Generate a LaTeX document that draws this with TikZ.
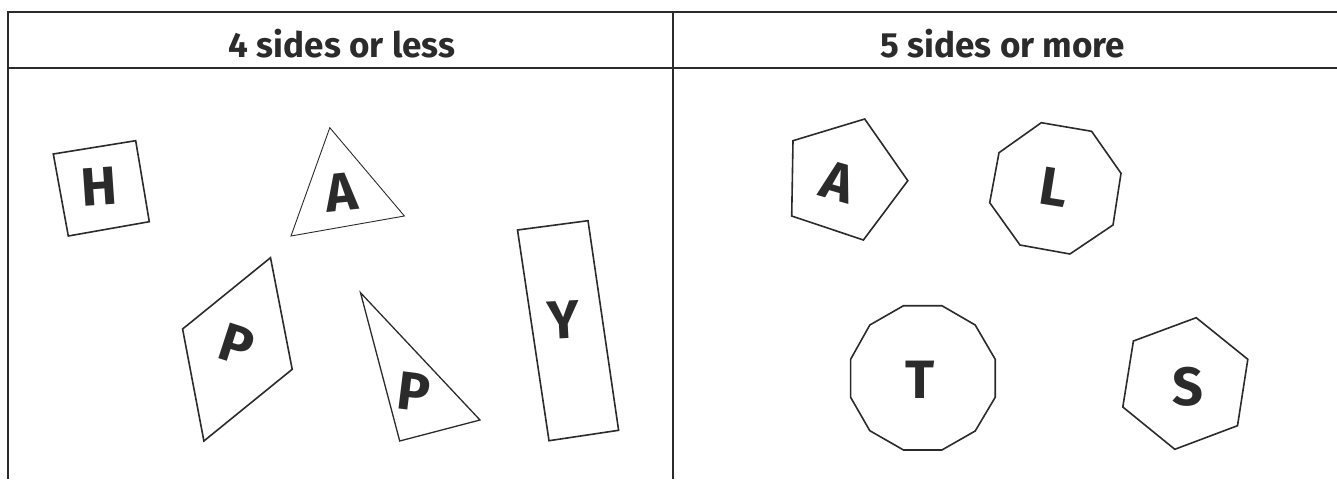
\documentclass[tikz,border=0pt]{standalone}
\usepackage{fontspec}
\setmainfont{Fira Sans}
\definecolor{inkgrey}{HTML}{2B2B2B}

\begin{document}
\begin{tikzpicture}[x=1pt, y=-1pt, every node/.style={text=inkgrey},
  heading/.style={font=\fontsize{35}{35}\selectfont\bfseries, anchor=base},
  letter/.style={font=\fontsize{54}{54}\selectfont\bfseries},
  tableline/.style={draw=inkgrey, line width=2.4pt},
  shapeline/.style={draw=inkgrey, line width=1.6pt}]
  \useasboundingbox (0,0) rectangle (1337,479);

  % Tableau
  \draw[tableline] (8,479) -- (8,12) -- (1340,12);
  \draw[tableline] (8,68) -- (1340,68);
  \draw[tableline] (673,12) -- (673,479);

  % Titres
  \node[heading] (headless) at (342,57) {4 sides or less};
  \node[heading] (headmore) at (1003,57) {5 sides or more};

  % Formes a 4 cotes ou moins
  \draw[shapeline] (53.3,154) -- (135.7,140.7) -- (149.3,221.7) -- (68.3,236) -- cycle;
  \draw[draw=inkgrey, line width=0.9pt] (329.8,127.7) -- (404.4,216) -- (291,236) -- cycle;
  \draw[shapeline] (182.6,329) -- (270.5,257.7) -- (292.2,369.3) -- (203.9,441) -- cycle;
  \draw[draw=inkgrey, line width=1.3pt] (360.5,292.7) -- (480,420) -- (399.7,441) -- cycle;
  \draw[shapeline] (517.5,230) -- (588,220.7) -- (618.6,430.3) -- (549,440.7) -- cycle;

  \node[letter, rotate=4] (letterH) at (99,187) {H};
  \node[letter, rotate=6] (letterA) at (341,192) {A};
  \node[letter, rotate=-18] (letterP) at (237,345) {P};
  \node[letter, rotate=-7] (letterPP) at (414,392) {P};
  \node[letter, rotate=3] (letterY) at (564,320) {Y};

  % Formes a 5 cotes ou plus
  \draw[shapeline] (793,140.7) -- (864.7,119) -- (907.8,180.7) -- (863.4,240) -- (791.7,216) -- cycle;
  \draw[shapeline] (1041.3,122.7) -- (1091.6,131.3) -- (1121,173.3) -- (1113,225)
    -- (1069.9,254) -- (1020,245) -- (989.7,202.7) -- (999,152.7) -- cycle;
  \draw[shapeline] (903.5,305.7) -- (941.9,305.7) -- (975.2,325) -- (995.2,359.3)
    -- (995.2,397.3) -- (975.2,431) -- (941.9,450) -- (903.5,450) -- (869.8,430.7)
    -- (850.6,397.3) -- (850.6,359.3) -- (869.8,325) -- cycle;
  \draw[shapeline] (1133.4,341) -- (1196.2,317.7) -- (1247.8,359.3) -- (1237.5,425.7)
    -- (1174.8,449.3) -- (1122.8,407) -- cycle;

  \node[letter, rotate=-16] (letterAA) at (838,182) {A};
  \node[letter, rotate=-9] (letterL) at (1054,187) {L};
  \node[letter] (letterT) at (920,380) {T};
  \node[letter] (letterS) at (1188,387) {S};
\end{tikzpicture}
\end{document}
